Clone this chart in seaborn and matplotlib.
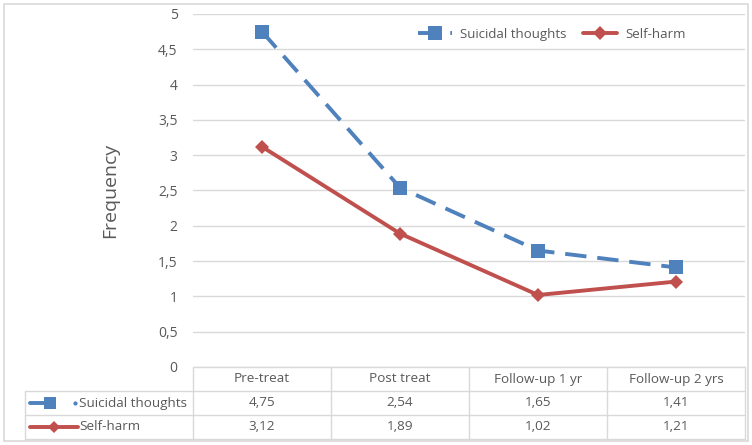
import pandas as pd
import matplotlib
matplotlib.use("Agg")
import matplotlib.pyplot as plt
from matplotlib.lines import Line2D
from matplotlib.patches import Rectangle
from matplotlib.ticker import FuncFormatter
import seaborn as sns

# Data
categories = ['Pre-treat', 'Post treat', 'Follow-up 1 yr', 'Follow-up 2 yrs']
suicidal_thoughts = [4.75, 2.54, 1.65, 1.41]
self_harm = [3.12, 1.89, 1.02, 1.21]
series_names = ['Suicidal thoughts', 'Self-harm']

df = pd.DataFrame({
    'Time': categories * 2,
    'Pos': list(range(len(categories))) * 2,
    'Frequency': suicidal_thoughts + self_harm,
    'Series': [series_names[0]] * 4 + [series_names[1]] * 4,
})

sns.set_style("white")
plt.rcParams['font.family'] = ['Open Sans', 'DejaVu Sans']

W, H = 752, 445
blue = '#4F81BD'
red = '#C0504D'
grey_txt = '#595959'
grid_col = '#D9D9D9'

def fx(px):
    return px / W

def fy(py):
    return 1 - py / H

fig = plt.figure(figsize=(W / 100, H / 100), dpi=100)
ax_left, ax_right, ax_top, ax_bot = 193, 745, 14, 367
ax = fig.add_axes([fx(ax_left), fy(ax_bot), fx(ax_right) - fx(ax_left), fy(ax_top) - fy(ax_bot)])

palette = {series_names[0]: blue, series_names[1]: red}
sns.lineplot(data=df, x='Pos', y='Frequency', hue='Series', style='Series',
             palette=palette, markers={series_names[0]: 's', series_names[1]: 'D'},
             dashes={series_names[0]: (5.5, 2.8), series_names[1]: ''},
             linewidth=2.8, markersize=9.5, markeredgewidth=0, ax=ax)
# smaller diamonds
for ln in ax.lines:
    if ln.get_marker() == 'D':
        ln.set_markersize(7.5)

ax.set_xlim(-0.5, len(categories) - 0.5)
ax.set_ylim(0, 5)
ax.set_yticks([i * 0.5 for i in range(11)])
ax.yaxis.set_major_formatter(FuncFormatter(lambda v, p: f"{v:g}".replace('.', ',')))
ax.tick_params(axis='y', length=0, pad=11, labelsize=10, labelcolor=grey_txt)
ax.set_xticks([])
ax.set_xlabel('')
ax.set_ylabel('')
ax.grid(axis='y', color=grid_col, linewidth=1)
ax.set_axisbelow(True)
for s in ax.spines.values():
    s.set_visible(False)

fig.text(fx(110), fy(190), 'Frequency', rotation=90, ha='center', va='center',
         fontsize=14, color=grey_txt)

leg = ax.legend(loc='center', bbox_to_anchor=(0.65, 0.943), ncol=2, frameon=False,
                fontsize=9.5, handlelength=2.6, columnspacing=1.2, handletextpad=0.6)
for t in leg.get_texts():
    t.set_color(grey_txt)

# Data table
col_w = (ax_right - ax_left) / len(categories)
rows_y = [367, 391, 415, 439]
lab_left = 25
line_kw = dict(color=grid_col, linewidth=1)
# horizontal lines
fig.add_artist(Line2D([fx(ax_left), fx(ax_right)], [fy(rows_y[0])] * 2, **line_kw))
for y in rows_y[1:]:
    fig.add_artist(Line2D([fx(lab_left), fx(ax_right)], [fy(y)] * 2, **line_kw))
# vertical lines
fig.add_artist(Line2D([fx(lab_left)] * 2, [fy(rows_y[1]), fy(rows_y[3])], **line_kw))
for i in range(len(categories) + 1):
    x = ax_left + i * col_w
    fig.add_artist(Line2D([fx(x)] * 2, [fy(rows_y[0]), fy(rows_y[3])], **line_kw))

def row_center(r):
    return fy((rows_y[r] + rows_y[r + 1]) / 2)

for i, cat in enumerate(categories):
    cx = fx(ax_left + (i + 0.5) * col_w)
    fig.text(cx, row_center(0), cat, ha='center', va='center', fontsize=9.7, color=grey_txt)
    fig.text(cx, row_center(1), f"{suicidal_thoughts[i]:.2f}".replace('.', ','),
             ha='center', va='center', fontsize=9.7, color=grey_txt)
    fig.text(cx, row_center(2), f"{self_harm[i]:.2f}".replace('.', ','),
             ha='center', va='center', fontsize=9.7, color=grey_txt)

# legend keys in table
y1 = row_center(1)
fig.add_artist(Line2D([fx(30), fx(52)], [y1, y1], color=blue, linewidth=2.8))
fig.add_artist(Line2D([fx(50)], [y1], color=blue, marker='s', markersize=8, markeredgewidth=0))
fig.add_artist(Line2D([fx(75)], [y1], color=blue, marker='o', markersize=3, markeredgewidth=0))
fig.text(fx(79), y1, series_names[0], ha='left', va='center', fontsize=9.7, color=grey_txt)
y2 = row_center(2)
fig.add_artist(Line2D([fx(30), fx(78)], [y2, y2], color=red, linewidth=2.8))
fig.add_artist(Line2D([fx(54)], [y2], color=red, marker='D', markersize=6, markeredgewidth=0))
fig.text(fx(79), y2, series_names[1], ha='left', va='center', fontsize=9.7, color=grey_txt)

# chart border
fig.add_artist(Rectangle((fx(4), fy(441)), fx(744), 437 / H, fill=False,
                         edgecolor=grid_col, linewidth=1.2))

fig.savefig('out.png', dpi=100)
